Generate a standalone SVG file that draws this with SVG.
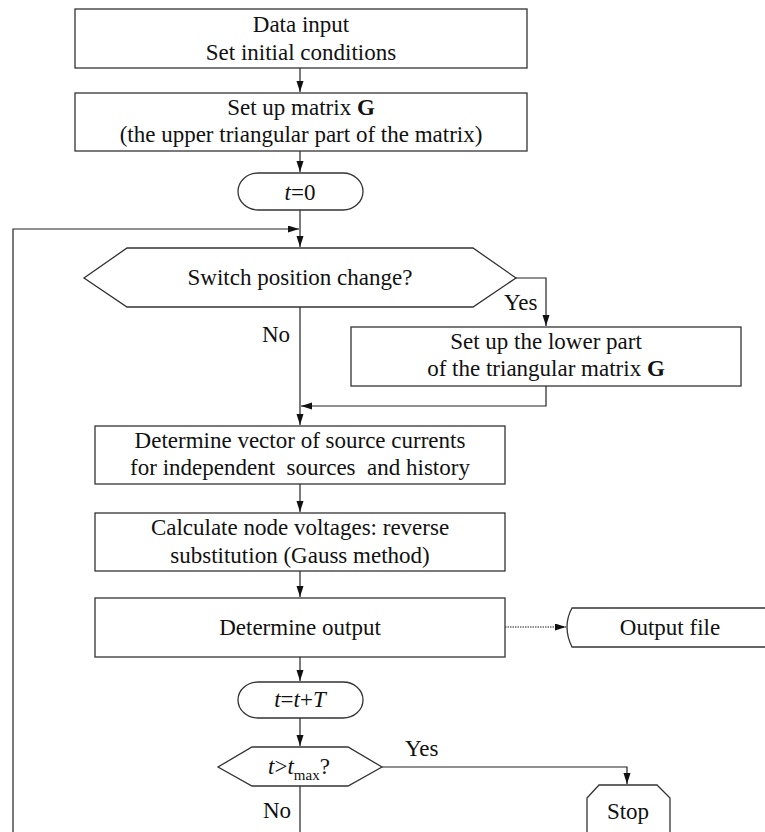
<svg xmlns="http://www.w3.org/2000/svg" width="765" height="832" viewBox="0 0 765 832">
<style>
.box{fill:#fff;stroke:#333;stroke-width:1.3}
.ln{fill:none;stroke:#222;stroke-width:1.2}
.dot{fill:none;stroke:#222;stroke-width:1.2;stroke-dasharray:1.5 1}
text{font-size:23px;fill:#111;text-anchor:middle}
.lbl{text-anchor:start}
.i{font-style:italic}
.b{font-weight:bold}
.sub{font-size:15px}
</style>
<defs>
<marker id="ah" markerUnits="userSpaceOnUse" markerWidth="12" markerHeight="8" refX="11" refY="3.5" orient="auto">
<path d="M0,0 L11,3.5 L0,7 Z" fill="#111"/>
</marker>
</defs>
<rect width="765" height="832" fill="#fff"/>
<g font-family="Liberation Serif, Times New Roman, Times, DejaVu Serif, Noto Serif, serif">

<g id="connectors">
<path class="ln" d="M300,68 V92" marker-end="url(#ah)"/>
<path class="ln" d="M300,151 V172" marker-end="url(#ah)"/>
<path class="ln" d="M300,210 V247" marker-end="url(#ah)"/>
<path class="ln" d="M13,840 V229 H299" marker-end="url(#ah)"/>
<path class="ln" d="M516,278 H546 V326" marker-end="url(#ah)"/>
<path class="ln" d="M546,386 V406 H301" marker-end="url(#ah)"/>
<path class="ln" d="M300,307 V425" marker-end="url(#ah)"/>
<path class="ln" d="M300,484 V512" marker-end="url(#ah)"/>
<path class="ln" d="M300,571 V597" marker-end="url(#ah)"/>
<path class="dot" d="M505,627 H566" marker-end="url(#ah)"/>
<path class="ln" d="M300,657 V681" marker-end="url(#ah)"/>
<path class="ln" d="M300,718 V746" marker-end="url(#ah)"/>
<path class="ln" d="M382,767 H627 V784" marker-end="url(#ah)"/>
<path class="ln" d="M300,786 V840"/>
<text class="lbl" x="504" y="310">Yes</text>
<text class="lbl" x="262" y="342">No</text>
<text class="lbl" x="405" y="756">Yes</text>
<text class="lbl" x="263" y="818">No</text>
</g>

<g id="n1">
<rect class="box" x="75" y="9" width="452" height="59"/>
<text x="301" y="32">Data input</text>
<text x="301" y="60">Set initial conditions</text>
</g>

<g id="n2">
<rect class="box" x="75" y="93" width="452" height="58"/>
<text x="301" y="115">Set up matrix <tspan class="b">G</tspan></text>
<text x="301" y="142">(the upper triangular part of the matrix)</text>
</g>

<g id="n3">
<rect class="box" x="238" y="173" width="125" height="37" rx="20" ry="18.5"/>
<text x="300" y="200"><tspan class="i">t</tspan>=0</text>
</g>

<g id="n4">
<polygon class="box" points="127,248 473,248 516,278 473,307 127,307 84,278"/>
<text x="300" y="285">Switch position change?</text>
</g>

<g id="n5">
<rect class="box" x="351" y="327" width="390" height="59"/>
<text x="546" y="349">Set up the lower part</text>
<text x="546" y="376">of the triangular matrix <tspan class="b">G</tspan></text>
</g>

<g id="n6">
<rect class="box" x="95" y="426" width="410" height="58"/>
<text x="300" y="448">Determine vector of source currents</text>
<text x="300" y="475" xml:space="preserve">for independent  sources  and history</text>
</g>

<g id="n7">
<rect class="box" x="95" y="513" width="410" height="58"/>
<text x="300" y="535">Calculate node voltages: reverse</text>
<text x="300" y="563">substitution (Gauss method)</text>
</g>

<g id="n8">
<rect class="box" x="95" y="598" width="410" height="59"/>
<text x="300" y="635">Determine output</text>
</g>

<g id="n9">
<path class="box" d="M572,608 H800 V647 H572 Q567,637 567,627 Q567,617 572,608 Z"/>
<text x="670" y="635">Output file</text>
</g>

<g id="n10">
<rect class="box" x="238" y="682" width="125" height="36" rx="20" ry="18"/>
<text x="300" y="707"><tspan class="i">t</tspan>=<tspan class="i">t</tspan>+<tspan class="i">T</tspan></text>
</g>

<g id="n11">
<polygon class="box" points="252,747 348,747 382,767 348,786 252,786 218,767"/>
<text x="299" y="774"><tspan class="i">t</tspan>&gt;<tspan class="i">t</tspan><tspan class="sub" dy="6">max</tspan><tspan dy="-6">?</tspan></text>
</g>

<g id="n12">
<polygon class="box" points="599,785 657,785 670,798 670,850 587,850 587,798"/>
<text x="628" y="819">Stop</text>
</g>
</g>
</svg>
